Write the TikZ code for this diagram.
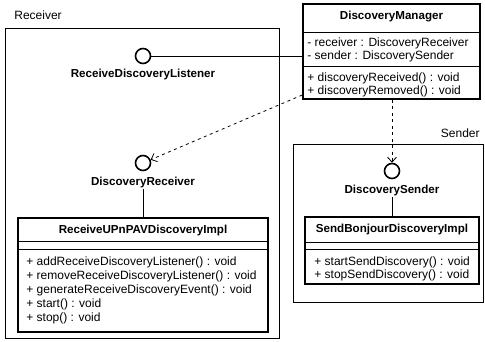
\documentclass[tikz,border=0pt]{standalone}
\usepackage{fontspec}
\setmainfont{Liberation Sans}
\usetikzlibrary{arrows.meta}

\tikzset{
    umlpackage/.style={draw, line width=0.8pt, inner sep=0pt},
    umlclass/.style={draw, line width=1.6pt, inner sep=0pt},
    umlinterface/.style={circle, draw, line width=1.6pt, minimum size=15pt, inner sep=0pt},
    title/.style={font=\fontsize{11.6}{13}\selectfont\bfseries, inner sep=0pt},
    member/.style={anchor=west, inner sep=0pt},
    depends/.style={dash pattern=on 3pt off 3.5pt, -{Straight Barb[length=5pt, width=9pt]}},
}

\begin{document}
\begin{tikzpicture}[x=1pt, y=-1pt, font=\fontsize{12}{14}\selectfont, line width=0.8pt]
            \useasboundingbox (0, 0) rectangle (485, 342);
            %\draw[lightgray] (0, 0) grid[step=20] (485, 342);
            % packages
            \node[umlpackage, minimum width=274pt, minimum height=310pt] (receiver-pkg) at (142, 183) {};
            \node[member] (receiver-pkg-name) at (14, 15) {Receiver};
            \node[umlpackage, minimum width=190pt, minimum height=158pt] (sender-pkg) at (388, 223) {};
            \node[anchor=east, inner sep=0pt] (sender-pkg-name) at (480, 133) {Sender};

            % DiscoveryManager
            \node[umlclass, minimum width=177pt, minimum height=95pt] (manager) at (391.5, 51.5) {};
            \node[title] (manager-name) at (391.5, 17) {DiscoveryManager};
            \draw (manager.west |- 0, 32) -- (manager.east |- 0, 32);
            \node[member] at (307, 43) {- receiver : DiscoveryReceiver};
            \node[member] at (307, 56) {- sender : DiscoverySender};
            \draw (manager.west |- 0, 66) -- (manager.east |- 0, 66);
            \node[member] at (307, 78) {+ discoveryReceived() : void};
            \node[member] at (307, 91) {+ discoveryRemoved() : void};

            % interfaces
            \node[umlinterface] (listener) at (143, 56) {};
            \node[title] (listener-name) at (143, 75) {ReceiveDiscoveryListener};
            \node[umlinterface] (receiver-if) at (143, 163) {};
            \node[title] (receiver-if-name) at (143, 183) {DiscoveryReceiver};
            \node[umlinterface] (sender-if) at (392, 171) {};
            \node[title] (sender-if-name) at (392, 191) {DiscoverySender};

            % ReceiveUPnPAVDiscoveryImpl
            \node[umlclass, minimum width=250pt, minimum height=114pt] (upnp-impl) at (143, 275) {};
            \node[title] (upnp-impl-name) at (143, 231) {ReceiveUPnPAVDiscoveryImpl};
            \draw (upnp-impl.west |- 0, 241) -- (upnp-impl.east |- 0, 241);
            \draw (upnp-impl.west |- 0, 249) -- (upnp-impl.east |- 0, 249);
            \node[member] at (26, 262) {+ addReceiveDiscoveryListener() : void};
            \node[member] at (26, 276) {+ removeReceiveDiscoveryListener() : void};
            \node[member] at (26, 290) {+ generateReceiveDiscoveryEvent() : void};
            \node[member] at (26, 304) {+ start() : void};
            \node[member] at (26, 318) {+ stop() : void};

            % SendBonjourDiscoveryImpl
            \node[umlclass, minimum width=174pt, minimum height=67pt] (bonjour-impl) at (392, 250.5) {};
            \node[title] (bonjour-impl-name) at (392, 230) {SendBonjourDiscoveryImpl};
            \draw (bonjour-impl.west |- 0, 242) -- (bonjour-impl.east |- 0, 242);
            \draw (bonjour-impl.west |- 0, 249) -- (bonjour-impl.east |- 0, 249);
            \node[member] at (314, 262) {+ startSendDiscovery() : void};
            \node[member] at (314, 275) {+ stopSendDiscovery() : void};

            % connectors
            \draw (listener) -- (manager.west |- listener);
            \draw (receiver-if-name) -- (upnp-impl);
            \draw (sender-if-name) -- (bonjour-impl);
            \draw[depends] (manager.west |- 0, 95) -- (receiver-if);
            \draw[depends] (manager.south -| sender-if) -- (sender-if);
        \end{tikzpicture}
\end{document}
